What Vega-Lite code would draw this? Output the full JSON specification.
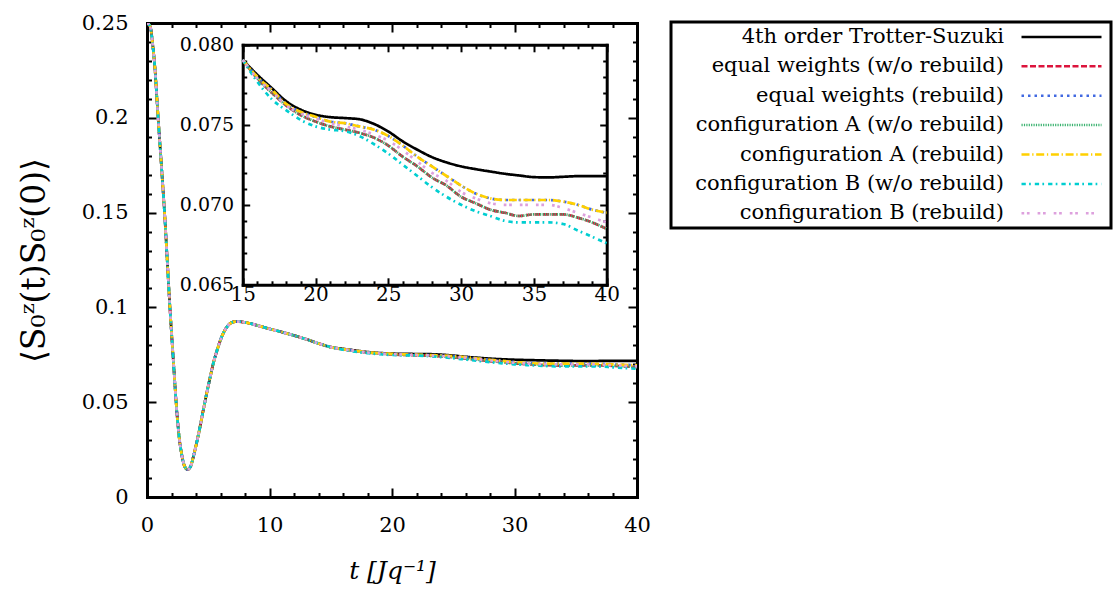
{
"$schema": "https://vega.github.io/schema/vega-lite/v6.json",
"width": 490, "height": 474,
"autosize": {"type": "none"},
"padding": {"left": 147, "top": 23, "right": 480, "bottom": 94},
"background": "white",
"config": {
  "view": {"stroke": null},
  "font": "DejaVu Serif",
  "axis": {"grid": false, "domainColor": "black", "tickColor": "black", "labelColor": "black", "titleColor": "black",
           "labelFont": "DejaVu Serif", "titleFont": "DejaVu Serif", "labelFlush": false, "labelOverlap": false,
           "tickWidth": 2, "domainWidth": 3, "titleFontWeight": "normal", "domainCap": "square"}
},
"data": {"values": [
{"t":0,"4th order Trotter-Suzuki":0.25,"equal weights (w/o rebuild)":0.25,"equal weights (rebuild)":0.25,"configuration A (w/o rebuild)":0.25,"configuration A (rebuild)":0.25,"configuration B (w/o rebuild)":0.25,"configuration B (rebuild)":0.25},
{"t":0.25,"4th order Trotter-Suzuki":0.2483,"equal weights (w/o rebuild)":0.2483,"equal weights (rebuild)":0.2483,"configuration A (w/o rebuild)":0.2483,"configuration A (rebuild)":0.2483,"configuration B (w/o rebuild)":0.2483,"configuration B (rebuild)":0.2483},
{"t":0.5,"4th order Trotter-Suzuki":0.2365,"equal weights (w/o rebuild)":0.2365,"equal weights (rebuild)":0.2365,"configuration A (w/o rebuild)":0.2365,"configuration A (rebuild)":0.2365,"configuration B (w/o rebuild)":0.2365,"configuration B (rebuild)":0.2365},
{"t":0.65,"4th order Trotter-Suzuki":0.226,"equal weights (w/o rebuild)":0.226,"equal weights (rebuild)":0.226,"configuration A (w/o rebuild)":0.226,"configuration A (rebuild)":0.226,"configuration B (w/o rebuild)":0.226,"configuration B (rebuild)":0.226},
{"t":0.8,"4th order Trotter-Suzuki":0.211,"equal weights (w/o rebuild)":0.211,"equal weights (rebuild)":0.211,"configuration A (w/o rebuild)":0.211,"configuration A (rebuild)":0.211,"configuration B (w/o rebuild)":0.211,"configuration B (rebuild)":0.211},
{"t":0.92,"4th order Trotter-Suzuki":0.199,"equal weights (w/o rebuild)":0.199,"equal weights (rebuild)":0.199,"configuration A (w/o rebuild)":0.199,"configuration A (rebuild)":0.199,"configuration B (w/o rebuild)":0.199,"configuration B (rebuild)":0.199},
{"t":1.2,"4th order Trotter-Suzuki":0.1725,"equal weights (w/o rebuild)":0.1725,"equal weights (rebuild)":0.1725,"configuration A (w/o rebuild)":0.1725,"configuration A (rebuild)":0.1725,"configuration B (w/o rebuild)":0.1725,"configuration B (rebuild)":0.1725},
{"t":1.47,"4th order Trotter-Suzuki":0.146,"equal weights (w/o rebuild)":0.146,"equal weights (rebuild)":0.146,"configuration A (w/o rebuild)":0.146,"configuration A (rebuild)":0.146,"configuration B (w/o rebuild)":0.146,"configuration B (rebuild)":0.146},
{"t":1.66,"4th order Trotter-Suzuki":0.124,"equal weights (w/o rebuild)":0.124,"equal weights (rebuild)":0.124,"configuration A (w/o rebuild)":0.124,"configuration A (rebuild)":0.124,"configuration B (w/o rebuild)":0.124,"configuration B (rebuild)":0.124},
{"t":1.88,"4th order Trotter-Suzuki":0.099,"equal weights (w/o rebuild)":0.099,"equal weights (rebuild)":0.099,"configuration A (w/o rebuild)":0.099,"configuration A (rebuild)":0.099,"configuration B (w/o rebuild)":0.099,"configuration B (rebuild)":0.099},
{"t":2.15,"4th order Trotter-Suzuki":0.0722,"equal weights (w/o rebuild)":0.0722,"equal weights (rebuild)":0.0722,"configuration A (w/o rebuild)":0.0722,"configuration A (rebuild)":0.0722,"configuration B (w/o rebuild)":0.0722,"configuration B (rebuild)":0.0722},
{"t":2.42,"4th order Trotter-Suzuki":0.0462,"equal weights (w/o rebuild)":0.0462,"equal weights (rebuild)":0.0462,"configuration A (w/o rebuild)":0.0462,"configuration A (rebuild)":0.0462,"configuration B (w/o rebuild)":0.0462,"configuration B (rebuild)":0.0462},
{"t":2.6,"4th order Trotter-Suzuki":0.033,"equal weights (w/o rebuild)":0.033,"equal weights (rebuild)":0.033,"configuration A (w/o rebuild)":0.033,"configuration A (rebuild)":0.033,"configuration B (w/o rebuild)":0.033,"configuration B (rebuild)":0.033},
{"t":2.83,"4th order Trotter-Suzuki":0.0225,"equal weights (w/o rebuild)":0.0225,"equal weights (rebuild)":0.0225,"configuration A (w/o rebuild)":0.0225,"configuration A (rebuild)":0.0225,"configuration B (w/o rebuild)":0.0225,"configuration B (rebuild)":0.0225},
{"t":3.05,"4th order Trotter-Suzuki":0.0165,"equal weights (w/o rebuild)":0.0165,"equal weights (rebuild)":0.0165,"configuration A (w/o rebuild)":0.0165,"configuration A (rebuild)":0.0165,"configuration B (w/o rebuild)":0.0165,"configuration B (rebuild)":0.0165},
{"t":3.3,"4th order Trotter-Suzuki":0.0145,"equal weights (w/o rebuild)":0.0145,"equal weights (rebuild)":0.0145,"configuration A (w/o rebuild)":0.0145,"configuration A (rebuild)":0.0145,"configuration B (w/o rebuild)":0.0145,"configuration B (rebuild)":0.0145},
{"t":3.55,"4th order Trotter-Suzuki":0.016,"equal weights (w/o rebuild)":0.016,"equal weights (rebuild)":0.016,"configuration A (w/o rebuild)":0.016,"configuration A (rebuild)":0.016,"configuration B (w/o rebuild)":0.016,"configuration B (rebuild)":0.016},
{"t":3.78,"4th order Trotter-Suzuki":0.0211,"equal weights (w/o rebuild)":0.0211,"equal weights (rebuild)":0.0211,"configuration A (w/o rebuild)":0.0211,"configuration A (rebuild)":0.0211,"configuration B (w/o rebuild)":0.0211,"configuration B (rebuild)":0.0211},
{"t":4.05,"4th order Trotter-Suzuki":0.0285,"equal weights (w/o rebuild)":0.0285,"equal weights (rebuild)":0.0285,"configuration A (w/o rebuild)":0.0285,"configuration A (rebuild)":0.0285,"configuration B (w/o rebuild)":0.0285,"configuration B (rebuild)":0.0285},
{"t":4.33,"4th order Trotter-Suzuki":0.037,"equal weights (w/o rebuild)":0.037,"equal weights (rebuild)":0.037,"configuration A (w/o rebuild)":0.037,"configuration A (rebuild)":0.037,"configuration B (w/o rebuild)":0.037,"configuration B (rebuild)":0.037},
{"t":4.6,"4th order Trotter-Suzuki":0.046,"equal weights (w/o rebuild)":0.046,"equal weights (rebuild)":0.046,"configuration A (w/o rebuild)":0.046,"configuration A (rebuild)":0.046,"configuration B (w/o rebuild)":0.046,"configuration B (rebuild)":0.046},
{"t":4.87,"4th order Trotter-Suzuki":0.0546,"equal weights (w/o rebuild)":0.0546,"equal weights (rebuild)":0.0546,"configuration A (w/o rebuild)":0.0546,"configuration A (rebuild)":0.0546,"configuration B (w/o rebuild)":0.0546,"configuration B (rebuild)":0.0546},
{"t":5.15,"4th order Trotter-Suzuki":0.063,"equal weights (w/o rebuild)":0.063,"equal weights (rebuild)":0.063,"configuration A (w/o rebuild)":0.063,"configuration A (rebuild)":0.063,"configuration B (w/o rebuild)":0.063,"configuration B (rebuild)":0.063},
{"t":5.41,"4th order Trotter-Suzuki":0.0704,"equal weights (w/o rebuild)":0.0704,"equal weights (rebuild)":0.0704,"configuration A (w/o rebuild)":0.0704,"configuration A (rebuild)":0.0704,"configuration B (w/o rebuild)":0.0704,"configuration B (rebuild)":0.0704},
{"t":5.75,"4th order Trotter-Suzuki":0.078,"equal weights (w/o rebuild)":0.078,"equal weights (rebuild)":0.078,"configuration A (w/o rebuild)":0.078,"configuration A (rebuild)":0.078,"configuration B (w/o rebuild)":0.078,"configuration B (rebuild)":0.078},
{"t":6.1,"4th order Trotter-Suzuki":0.0845,"equal weights (w/o rebuild)":0.0845,"equal weights (rebuild)":0.0845,"configuration A (w/o rebuild)":0.0845,"configuration A (rebuild)":0.0845,"configuration B (w/o rebuild)":0.0845,"configuration B (rebuild)":0.0845},
{"t":6.45,"4th order Trotter-Suzuki":0.089,"equal weights (w/o rebuild)":0.089,"equal weights (rebuild)":0.089,"configuration A (w/o rebuild)":0.089,"configuration A (rebuild)":0.089,"configuration B (w/o rebuild)":0.089,"configuration B (rebuild)":0.089},
{"t":6.78,"4th order Trotter-Suzuki":0.0915,"equal weights (w/o rebuild)":0.0915,"equal weights (rebuild)":0.0915,"configuration A (w/o rebuild)":0.0915,"configuration A (rebuild)":0.0915,"configuration B (w/o rebuild)":0.0915,"configuration B (rebuild)":0.0915},
{"t":7.1,"4th order Trotter-Suzuki":0.0924,"equal weights (w/o rebuild)":0.0924,"equal weights (rebuild)":0.0924,"configuration A (w/o rebuild)":0.0924,"configuration A (rebuild)":0.0924,"configuration B (w/o rebuild)":0.0924,"configuration B (rebuild)":0.0924},
{"t":7.5,"4th order Trotter-Suzuki":0.0925,"equal weights (w/o rebuild)":0.0925,"equal weights (rebuild)":0.0925,"configuration A (w/o rebuild)":0.0925,"configuration A (rebuild)":0.0925,"configuration B (w/o rebuild)":0.0925,"configuration B (rebuild)":0.0925},
{"t":8,"4th order Trotter-Suzuki":0.0921,"equal weights (w/o rebuild)":0.0921,"equal weights (rebuild)":0.0921,"configuration A (w/o rebuild)":0.0921,"configuration A (rebuild)":0.0921,"configuration B (w/o rebuild)":0.0921,"configuration B (rebuild)":0.0921},
{"t":8.5,"4th order Trotter-Suzuki":0.0914,"equal weights (w/o rebuild)":0.0914,"equal weights (rebuild)":0.0914,"configuration A (w/o rebuild)":0.0914,"configuration A (rebuild)":0.0914,"configuration B (w/o rebuild)":0.0914,"configuration B (rebuild)":0.0914},
{"t":9,"4th order Trotter-Suzuki":0.0905,"equal weights (w/o rebuild)":0.0905,"equal weights (rebuild)":0.0905,"configuration A (w/o rebuild)":0.0905,"configuration A (rebuild)":0.0905,"configuration B (w/o rebuild)":0.0905,"configuration B (rebuild)":0.0905},
{"t":10,"4th order Trotter-Suzuki":0.0887,"equal weights (w/o rebuild)":0.0887,"equal weights (rebuild)":0.0887,"configuration A (w/o rebuild)":0.0887,"configuration A (rebuild)":0.0887,"configuration B (w/o rebuild)":0.0887,"configuration B (rebuild)":0.0887},
{"t":11,"4th order Trotter-Suzuki":0.087,"equal weights (w/o rebuild)":0.087,"equal weights (rebuild)":0.087,"configuration A (w/o rebuild)":0.087,"configuration A (rebuild)":0.087,"configuration B (w/o rebuild)":0.087,"configuration B (rebuild)":0.087},
{"t":12,"4th order Trotter-Suzuki":0.0852,"equal weights (w/o rebuild)":0.0852,"equal weights (rebuild)":0.0852,"configuration A (w/o rebuild)":0.0852,"configuration A (rebuild)":0.0852,"configuration B (w/o rebuild)":0.0852,"configuration B (rebuild)":0.0852},
{"t":13,"4th order Trotter-Suzuki":0.0832,"equal weights (w/o rebuild)":0.0832,"equal weights (rebuild)":0.0832,"configuration A (w/o rebuild)":0.0832,"configuration A (rebuild)":0.0832,"configuration B (w/o rebuild)":0.0832,"configuration B (rebuild)":0.0832},
{"t":14,"4th order Trotter-Suzuki":0.081,"equal weights (w/o rebuild)":0.081,"equal weights (rebuild)":0.081,"configuration A (w/o rebuild)":0.081,"configuration A (rebuild)":0.081,"configuration B (w/o rebuild)":0.081,"configuration B (rebuild)":0.081},
{"t":15,"4th order Trotter-Suzuki":0.07906,"equal weights (w/o rebuild)":0.07906,"equal weights (rebuild)":0.07906,"configuration A (w/o rebuild)":0.07906,"configuration A (rebuild)":0.07906,"configuration B (w/o rebuild)":0.07906,"configuration B (rebuild)":0.07906},
{"t":16,"4th order Trotter-Suzuki":0.07813,"equal weights (w/o rebuild)":0.0779,"equal weights (rebuild)":0.078,"configuration A (w/o rebuild)":0.0779,"configuration A (rebuild)":0.078,"configuration B (w/o rebuild)":0.0777,"configuration B (rebuild)":0.0779},
{"t":17,"4th order Trotter-Suzuki":0.07729,"equal weights (w/o rebuild)":0.077,"equal weights (rebuild)":0.07719,"configuration A (w/o rebuild)":0.077,"configuration A (rebuild)":0.07719,"configuration B (w/o rebuild)":0.0766,"configuration B (rebuild)":0.0771},
{"t":18,"4th order Trotter-Suzuki":0.07646,"equal weights (w/o rebuild)":0.0762,"equal weights (rebuild)":0.0763,"configuration A (w/o rebuild)":0.0762,"configuration A (rebuild)":0.0763,"configuration B (w/o rebuild)":0.0759,"configuration B (rebuild)":0.0762},
{"t":19,"4th order Trotter-Suzuki":0.07594,"equal weights (w/o rebuild)":0.0756,"equal weights (rebuild)":0.0758,"configuration A (w/o rebuild)":0.0756,"configuration A (rebuild)":0.0758,"configuration B (w/o rebuild)":0.0753,"configuration B (rebuild)":0.0757},
{"t":20,"4th order Trotter-Suzuki":0.07563,"equal weights (w/o rebuild)":0.0752,"equal weights (rebuild)":0.0755,"configuration A (w/o rebuild)":0.0752,"configuration A (rebuild)":0.0755,"configuration B (w/o rebuild)":0.0749,"configuration B (rebuild)":0.0754},
{"t":21,"4th order Trotter-Suzuki":0.07548,"equal weights (w/o rebuild)":0.0749,"equal weights (rebuild)":0.0752,"configuration A (w/o rebuild)":0.0749,"configuration A (rebuild)":0.0752,"configuration B (w/o rebuild)":0.0747,"configuration B (rebuild)":0.0751},
{"t":22,"4th order Trotter-Suzuki":0.07542,"equal weights (w/o rebuild)":0.0747,"equal weights (rebuild)":0.0751,"configuration A (w/o rebuild)":0.0747,"configuration A (rebuild)":0.0751,"configuration B (w/o rebuild)":0.0746,"configuration B (rebuild)":0.0749},
{"t":23,"4th order Trotter-Suzuki":0.07535,"equal weights (w/o rebuild)":0.0745,"equal weights (rebuild)":0.0749,"configuration A (w/o rebuild)":0.0745,"configuration A (rebuild)":0.0749,"configuration B (w/o rebuild)":0.0743,"configuration B (rebuild)":0.0747},
{"t":24,"4th order Trotter-Suzuki":0.07506,"equal weights (w/o rebuild)":0.0742,"equal weights (rebuild)":0.0747,"configuration A (w/o rebuild)":0.0742,"configuration A (rebuild)":0.0747,"configuration B (w/o rebuild)":0.0738,"configuration B (rebuild)":0.0744},
{"t":25,"4th order Trotter-Suzuki":0.07458,"equal weights (w/o rebuild)":0.0737,"equal weights (rebuild)":0.0743,"configuration A (w/o rebuild)":0.0737,"configuration A (rebuild)":0.0743,"configuration B (w/o rebuild)":0.0732,"configuration B (rebuild)":0.074},
{"t":26,"4th order Trotter-Suzuki":0.07396,"equal weights (w/o rebuild)":0.073,"equal weights (rebuild)":0.0737,"configuration A (w/o rebuild)":0.073,"configuration A (rebuild)":0.0737,"configuration B (w/o rebuild)":0.0725,"configuration B (rebuild)":0.0734},
{"t":27,"4th order Trotter-Suzuki":0.07344,"equal weights (w/o rebuild)":0.0724,"equal weights (rebuild)":0.073,"configuration A (w/o rebuild)":0.0724,"configuration A (rebuild)":0.073,"configuration B (w/o rebuild)":0.0718,"configuration B (rebuild)":0.0727},
{"t":28,"4th order Trotter-Suzuki":0.07298,"equal weights (w/o rebuild)":0.0717,"equal weights (rebuild)":0.0724,"configuration A (w/o rebuild)":0.0717,"configuration A (rebuild)":0.0724,"configuration B (w/o rebuild)":0.0711,"configuration B (rebuild)":0.072},
{"t":29,"4th order Trotter-Suzuki":0.07265,"equal weights (w/o rebuild)":0.0712,"equal weights (rebuild)":0.0718,"configuration A (w/o rebuild)":0.0712,"configuration A (rebuild)":0.0718,"configuration B (w/o rebuild)":0.0705,"configuration B (rebuild)":0.0715},
{"t":30,"4th order Trotter-Suzuki":0.0724,"equal weights (w/o rebuild)":0.0705,"equal weights (rebuild)":0.0712,"configuration A (w/o rebuild)":0.0705,"configuration A (rebuild)":0.0712,"configuration B (w/o rebuild)":0.07,"configuration B (rebuild)":0.0708},
{"t":31,"4th order Trotter-Suzuki":0.07223,"equal weights (w/o rebuild)":0.0701,"equal weights (rebuild)":0.0707,"configuration A (w/o rebuild)":0.0701,"configuration A (rebuild)":0.0707,"configuration B (w/o rebuild)":0.0696,"configuration B (rebuild)":0.0704},
{"t":32,"4th order Trotter-Suzuki":0.07208,"equal weights (w/o rebuild)":0.0697,"equal weights (rebuild)":0.0704,"configuration A (w/o rebuild)":0.0697,"configuration A (rebuild)":0.0704,"configuration B (w/o rebuild)":0.0693,"configuration B (rebuild)":0.0701},
{"t":33,"4th order Trotter-Suzuki":0.07194,"equal weights (w/o rebuild)":0.0695,"equal weights (rebuild)":0.0703,"configuration A (w/o rebuild)":0.0695,"configuration A (rebuild)":0.0703,"configuration B (w/o rebuild)":0.069,"configuration B (rebuild)":0.07},
{"t":34,"4th order Trotter-Suzuki":0.07183,"equal weights (w/o rebuild)":0.0693,"equal weights (rebuild)":0.0703,"configuration A (w/o rebuild)":0.0693,"configuration A (rebuild)":0.0703,"configuration B (w/o rebuild)":0.0689,"configuration B (rebuild)":0.07},
{"t":35,"4th order Trotter-Suzuki":0.07173,"equal weights (w/o rebuild)":0.0694,"equal weights (rebuild)":0.0703,"configuration A (w/o rebuild)":0.0694,"configuration A (rebuild)":0.0703,"configuration B (w/o rebuild)":0.0689,"configuration B (rebuild)":0.07},
{"t":36,"4th order Trotter-Suzuki":0.07171,"equal weights (w/o rebuild)":0.0694,"equal weights (rebuild)":0.0703,"configuration A (w/o rebuild)":0.0694,"configuration A (rebuild)":0.0703,"configuration B (w/o rebuild)":0.0689,"configuration B (rebuild)":0.07},
{"t":37,"4th order Trotter-Suzuki":0.07175,"equal weights (w/o rebuild)":0.0694,"equal weights (rebuild)":0.0702,"configuration A (w/o rebuild)":0.0694,"configuration A (rebuild)":0.0702,"configuration B (w/o rebuild)":0.0688,"configuration B (rebuild)":0.0698},
{"t":38,"4th order Trotter-Suzuki":0.07179,"equal weights (w/o rebuild)":0.0692,"equal weights (rebuild)":0.07,"configuration A (w/o rebuild)":0.0692,"configuration A (rebuild)":0.07,"configuration B (w/o rebuild)":0.0684,"configuration B (rebuild)":0.0695},
{"t":39,"4th order Trotter-Suzuki":0.07179,"equal weights (w/o rebuild)":0.0689,"equal weights (rebuild)":0.0697,"configuration A (w/o rebuild)":0.0689,"configuration A (rebuild)":0.0697,"configuration B (w/o rebuild)":0.068,"configuration B (rebuild)":0.0692},
{"t":40,"4th order Trotter-Suzuki":0.07179,"equal weights (w/o rebuild)":0.0685,"equal weights (rebuild)":0.0695,"configuration A (w/o rebuild)":0.0685,"configuration A (rebuild)":0.0695,"configuration B (w/o rebuild)":0.0676,"configuration B (rebuild)":0.0689}
]},
"transform": [{"fold": ["4th order Trotter-Suzuki","equal weights (w/o rebuild)","equal weights (rebuild)","configuration A (w/o rebuild)","configuration A (rebuild)","configuration B (w/o rebuild)","configuration B (rebuild)"], "as": ["series","v"]}],
"layer": [
 {
  "layer": [
   {"mark": {"type": "line", "strokeWidth": 2.7, "interpolate": "monotone", "clip": true},
    "encoding": {
     "x": {"field": "t", "type": "quantitative", "scale": {"domain": [0, 40], "nice": false, "zero": false},
           "axis": {"orient": "bottom", "values": [0, 10, 20, 30, 40], "tickSize": -9, "labelPadding": 26, "labelFontSize": 21,
                    "title": "t  [Jq⁻¹]", "titleFontSize": 25, "titleFontStyle": "italic", "titlePadding": 23}},
     "y": {"field": "v", "type": "quantitative", "scale": {"domain": [0, 0.25], "nice": false, "zero": false},
           "axis": {"orient": "left", "values": [0, 0.05, 0.1, 0.15, 0.2, 0.25], "format": "~g", "tickSize": -9, "labelPadding": 28, "labelFontSize": 21,
                    "title": "⟨S₀ᶻ(t)S₀ᶻ(0)⟩", "titleFontSize": 33, "titlePadding": 30}},
     "color": {"field": "series", "type": "nominal",
       "scale": {"domain": ["4th order Trotter-Suzuki","equal weights (w/o rebuild)","equal weights (rebuild)","configuration A (w/o rebuild)","configuration A (rebuild)","configuration B (w/o rebuild)","configuration B (rebuild)"],
                 "range": ["#000000","#dc143c","#4169e1","#3cb371","#ffd000","#00ced1","#dda0dd"]},
       "legend": {"title": null, "orient": "none", "legendX": 524, "legendY": -1, "symbolType": "M-8,0H8", "symbolSize": 100, "symbolStrokeWidth": 2.5,
                  "symbolOffset": 375.6, "labelAlign": "right", "labelOffset": -68, "labelLimit": 800, "labelFontSize": 21, "labelFont": "DejaVu Serif",
                  "labelColor": "black", "rowPadding": 7.4, "padding": 4.4, "strokeColor": "black", "fillColor": "white",
                  "encode": {"legend": {"update": {"strokeWidth": {"value": 3}}}}}},
     "strokeDash": {"field": "series", "type": "nominal",
       "scale": {"domain": ["4th order Trotter-Suzuki","equal weights (w/o rebuild)","equal weights (rebuild)","configuration A (w/o rebuild)","configuration A (rebuild)","configuration B (w/o rebuild)","configuration B (rebuild)"],
                 "range": [[1,0],[6,2.5],[2.5,4],[1.2,1.2],[8,2.7,1.3,2.7],[4.3,3.3,1.7,4],[2.7,2.7,2.7,8]]},
       "legend": {"title": null, "orient": "none", "legendX": 524, "legendY": -1, "symbolType": "M-8,0H8", "symbolSize": 100, "symbolStrokeWidth": 2.5,
                  "symbolOffset": 375.6, "labelAlign": "right", "labelOffset": -68, "labelLimit": 800, "labelFontSize": 21, "labelFont": "DejaVu Serif",
                  "labelColor": "black", "rowPadding": 7.4, "padding": 4.4, "strokeColor": "black", "fillColor": "white",
                  "encode": {"legend": {"update": {"strokeWidth": {"value": 3}}}}}}
    }},
   {"mark": {"type": "point", "opacity": 0},
    "encoding": {
     "x": {"field": "t", "type": "quantitative", "scale": {"domain": [0, 40], "nice": false, "zero": false},
           "axis": {"orient": "bottom", "values": [2,4,6,8,12,14,16,18,22,24,26,28,32,34,36,38], "tickSize": -4.5, "labels": false, "domain": false, "title": null}},
     "y": {"field": "v", "type": "quantitative", "scale": {"domain": [0, 0.25], "nice": false, "zero": false},
           "axis": {"orient": "left", "values": [0.01,0.02,0.03,0.04,0.06,0.07,0.08,0.09,0.11,0.12,0.13,0.14,0.16,0.17,0.18,0.19,0.21,0.22,0.23,0.24], "tickSize": -4.5, "labels": false, "domain": false, "title": null}}
    }},
   {"mark": {"type": "point", "opacity": 0},
    "encoding": {
     "x": {"field": "t", "type": "quantitative", "scale": {"domain": [0, 40], "nice": false, "zero": false},
           "axis": {"orient": "top", "values": [0, 10, 20, 30, 40], "tickSize": -9, "labels": false, "title": null}},
     "y": {"field": "v", "type": "quantitative", "scale": {"domain": [0, 0.25], "nice": false, "zero": false},
           "axis": {"orient": "right", "values": [0, 0.05, 0.1, 0.15, 0.2, 0.25], "tickSize": -9, "labels": false, "title": null}}
    }},
   {"mark": {"type": "point", "opacity": 0},
    "encoding": {
     "x": {"field": "t", "type": "quantitative", "scale": {"domain": [0, 40], "nice": false, "zero": false},
           "axis": {"orient": "top", "values": [2,4,6,8,12,14,16,18,22,24,26,28,32,34,36,38], "tickSize": -4.5, "labels": false, "domain": false, "title": null}},
     "y": {"field": "v", "type": "quantitative", "scale": {"domain": [0, 0.25], "nice": false, "zero": false},
           "axis": {"orient": "right", "values": [0.01,0.02,0.03,0.04,0.06,0.07,0.08,0.09,0.11,0.12,0.13,0.14,0.16,0.17,0.18,0.19,0.21,0.22,0.23,0.24], "tickSize": -4.5, "labels": false, "domain": false, "title": null}}
    }}
  ],
  "resolve": {"axis": {"x": "independent", "y": "independent"}}
 },
 {
  "layer": [
   {"transform": [{"filter": "datum.t >= 15"}],
    "mark": {"type": "line", "strokeWidth": 2.7, "interpolate": "monotone"},
    "encoding": {
     "x": {"field": "t", "type": "quantitative", "scale": {"domain": [15, 40], "range": [95.7, 459.7], "nice": false, "zero": false},
           "axis": {"orient": "bottom", "offset": -212.2, "values": [15, 20, 25, 30, 35, 40], "tickSize": -7, "labelPadding": 7, "labelFontSize": 20, "title": null}},
     "y": {"field": "v", "type": "quantitative", "scale": {"domain": [0.065, 0.08], "range": [261.8, 21.8], "nice": false, "zero": false},
           "axis": {"orient": "left", "offset": -95.7, "values": [0.065, 0.07, 0.075, 0.08], "format": ".3f", "tickSize": -7, "labelPadding": 16, "labelFontSize": 19, "title": null}},
     "color": {"field": "series", "type": "nominal",
       "scale": {"domain": ["4th order Trotter-Suzuki","equal weights (w/o rebuild)","equal weights (rebuild)","configuration A (w/o rebuild)","configuration A (rebuild)","configuration B (w/o rebuild)","configuration B (rebuild)"],
                 "range": ["#000000","#dc143c","#4169e1","#3cb371","#ffd000","#00ced1","#dda0dd"]}},
     "strokeDash": {"field": "series", "type": "nominal",
       "scale": {"domain": ["4th order Trotter-Suzuki","equal weights (w/o rebuild)","equal weights (rebuild)","configuration A (w/o rebuild)","configuration A (rebuild)","configuration B (w/o rebuild)","configuration B (rebuild)"],
                 "range": [[1,0],[6,2.5],[2.5,4],[1.2,1.2],[8,2.7,1.3,2.7],[4.3,3.3,1.7,4],[2.7,2.7,2.7,8]]}}
    }},
   {"transform": [{"filter": "datum.t >= 15"}],
    "mark": {"type": "point", "opacity": 0},
    "encoding": {
     "x": {"field": "t", "type": "quantitative", "scale": {"domain": [15, 40], "range": [95.7, 459.7], "nice": false, "zero": false},
           "axis": {"orient": "bottom", "offset": -212.2, "values": [16,17,18,19,21,22,23,24,26,27,28,29,31,32,33,34,36,37,38,39], "tickSize": -4, "labels": false, "domain": false, "title": null}},
     "y": {"field": "v", "type": "quantitative", "scale": {"domain": [0.065, 0.08], "range": [261.8, 21.8], "nice": false, "zero": false},
           "axis": {"orient": "left", "offset": -95.7, "values": [0.066,0.067,0.068,0.069,0.071,0.072,0.073,0.074,0.076,0.077,0.078,0.079], "tickSize": -4, "labels": false, "domain": false, "title": null}}
    }},
   {"transform": [{"filter": "datum.t >= 15"}],
    "mark": {"type": "point", "opacity": 0},
    "encoding": {
     "x": {"field": "t", "type": "quantitative", "scale": {"domain": [15, 40], "range": [95.7, 459.7], "nice": false, "zero": false},
           "axis": {"orient": "top", "offset": -21.8, "values": [15, 20, 25, 30, 35, 40], "tickSize": -7, "labels": false, "title": null}},
     "y": {"field": "v", "type": "quantitative", "scale": {"domain": [0.065, 0.08], "range": [261.8, 21.8], "nice": false, "zero": false},
           "axis": {"orient": "right", "offset": -30.3, "values": [0.065, 0.07, 0.075, 0.08], "tickSize": -7, "labels": false, "title": null}}
    }},
   {"transform": [{"filter": "datum.t >= 15"}],
    "mark": {"type": "point", "opacity": 0},
    "encoding": {
     "x": {"field": "t", "type": "quantitative", "scale": {"domain": [15, 40], "range": [95.7, 459.7], "nice": false, "zero": false},
           "axis": {"orient": "top", "offset": -21.8, "values": [16,17,18,19,21,22,23,24,26,27,28,29,31,32,33,34,36,37,38,39], "tickSize": -4, "labels": false, "domain": false, "title": null}},
     "y": {"field": "v", "type": "quantitative", "scale": {"domain": [0.065, 0.08], "range": [261.8, 21.8], "nice": false, "zero": false},
           "axis": {"orient": "right", "offset": -30.3, "values": [0.066,0.067,0.068,0.069,0.071,0.072,0.073,0.074,0.076,0.077,0.078,0.079], "tickSize": -4, "labels": false, "domain": false, "title": null}}
    }}
  ],
  "resolve": {"axis": {"x": "independent", "y": "independent"}}
 }
],
"resolve": {"scale": {"x": "independent", "y": "independent"}, "axis": {"x": "independent", "y": "independent"}}
}
